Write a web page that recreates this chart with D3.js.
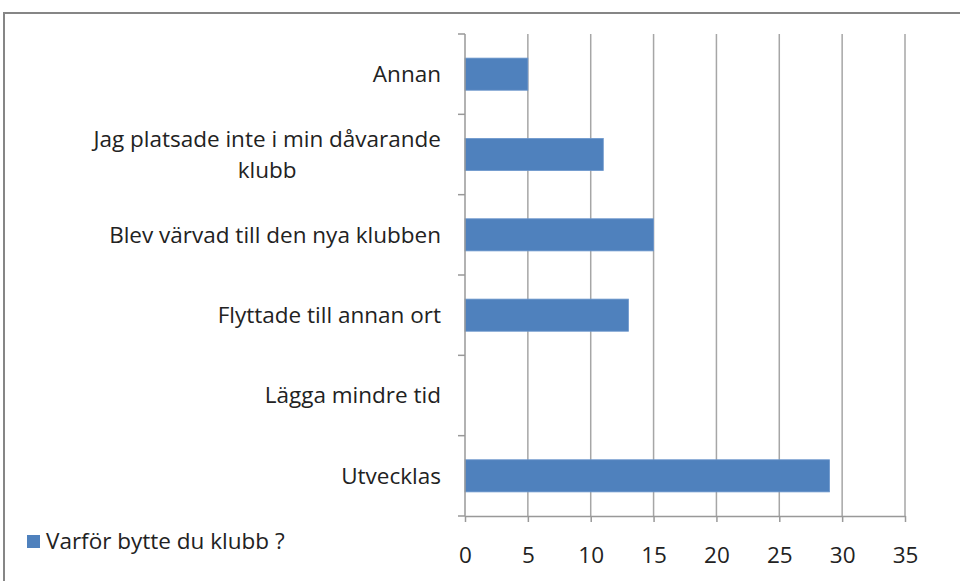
<!DOCTYPE html>
<html>
<head>
<meta charset="utf-8">
<script src="https://cdn.jsdelivr.net/npm/d3@7"></script>
<style>
  body { margin: 0; background: #fff; }
  text { font-family: "Open Sans", Lato, sans-serif; fill: #222; }
</style>
</head>
<body>
<div id="chart"></div>
<script>
const categories = [
    "Annan",
    "Jag platsade inte i min dåvarande|klubb",
    "Blev värvad till den nya klubben",
    "Flyttade till annan ort",
    "Lägga mindre tid",
    "Utvecklas"
];
const values = [5, 11, 15, 13, 0, 29];
const xTicks = [0, 5, 10, 15, 20, 25, 30, 35];
const seriesName = "Varför bytte du klubb ?";

const width = 960;
const height = 581;
const margin = { top: 34, right: 55, bottom: 65, left: 465 };
const fontSize = 22.5;

const svg = d3
    .select("#chart")
    .append("svg")
    .attr("width", width)
    .attr("height", height);

// outer frame
svg.append("rect")
    .attr("x", 4)
    .attr("y", 13)
    .attr("width", 1000)
    .attr("height", 1000)
    .attr("fill", "none")
    .attr("stroke", "#868686")
    .attr("stroke-width", 2);

const xScale = d3
    .scaleLinear()
    .domain([0, 35])
    .range([margin.left, width - margin.right]);

const yScale = d3
    .scaleBand()
    .domain(categories)
    .range([margin.top, height - margin.bottom])
    .paddingInner(0.6)
    .paddingOuter(0.3);

const y0 = height - margin.bottom;

// gridlines
svg.append("g")
    .selectAll("line")
    .data(xTicks.slice(1))
    .join("line")
    .attr("x1", (d) => xScale(d))
    .attr("x2", (d) => xScale(d))
    .attr("y1", margin.top)
    .attr("y2", y0)
    .attr("stroke", "#a6a6a6")
    .attr("stroke-width", 1.5);

// bars
svg.append("g")
    .selectAll("rect")
    .data(values)
    .join("rect")
    .attr("x", xScale(0))
    .attr("y", (d, i) => yScale(categories[i]))
    .attr("width", (d) => xScale(d) - xScale(0))
    .attr("height", yScale.bandwidth())
    .attr("fill", "#4f81bd")
    .attr("stroke", (d) => (d > 0 ? "#6d97cc" : "none"))
    .attr("stroke-width", 0.8);

// bottom axis
const xAxis = svg.append("g")
    .attr("transform", `translate(0,${y0})`)
    .call(d3.axisBottom(xScale).tickValues(xTicks).tickSize(6).tickSizeOuter(0).tickPadding(25));
xAxis.select(".domain").attr("stroke", "#999").attr("stroke-width", 1.5);
xAxis.selectAll(".tick line").attr("stroke", "#999").attr("stroke-width", 1.5);
xAxis.selectAll(".tick text")
    .attr("font-size", fontSize)
    .style("font-family", "'Open Sans', Lato, sans-serif")
    .attr("fill", "#222");

// left axis with tick marks at band edges
const bandEdges = d3.range(categories.length + 1).map(
    (i) => margin.top + i * (y0 - margin.top) / categories.length
);
svg.append("line")
    .attr("x1", xScale(0))
    .attr("x2", xScale(0))
    .attr("y1", margin.top)
    .attr("y2", y0)
    .attr("stroke", "#999")
    .attr("stroke-width", 1.5);
svg.append("g")
    .selectAll("line")
    .data(bandEdges)
    .join("line")
    .attr("x1", xScale(0) - 7)
    .attr("x2", xScale(0))
    .attr("y1", (d) => d)
    .attr("y2", (d) => d)
    .attr("stroke", "#999")
    .attr("stroke-width", 1.5);

// category labels
const labelRight = 441;
categories.forEach((c, i) => {
    const lines = c.split("|");
    const cy = yScale(c) + yScale.bandwidth() / 2;
    const lh = 31;
    const g = svg.append("g");
    const texts = lines.map((ln, j) =>
        g.append("text")
            .attr("y", cy + (j - (lines.length - 1) / 2) * lh)
            .attr("dy", "0.35em")
            .attr("font-size", fontSize)
            .text(ln)
    );
    const maxW = d3.max(texts, (t) => t.node().getComputedTextLength());
    const centerX = labelRight - maxW / 2;
    texts.forEach((t) => t.attr("x", centerX).attr("text-anchor", "middle"));
});

// legend
svg.append("rect")
    .attr("x", 27)
    .attr("y", 535)
    .attr("width", 13)
    .attr("height", 13)
    .attr("fill", "#4f81bd");
svg.append("text")
    .attr("x", 46)
    .attr("y", 549)
    .attr("font-size", fontSize)
    .text(seriesName);
</script>
</body>
</html>
